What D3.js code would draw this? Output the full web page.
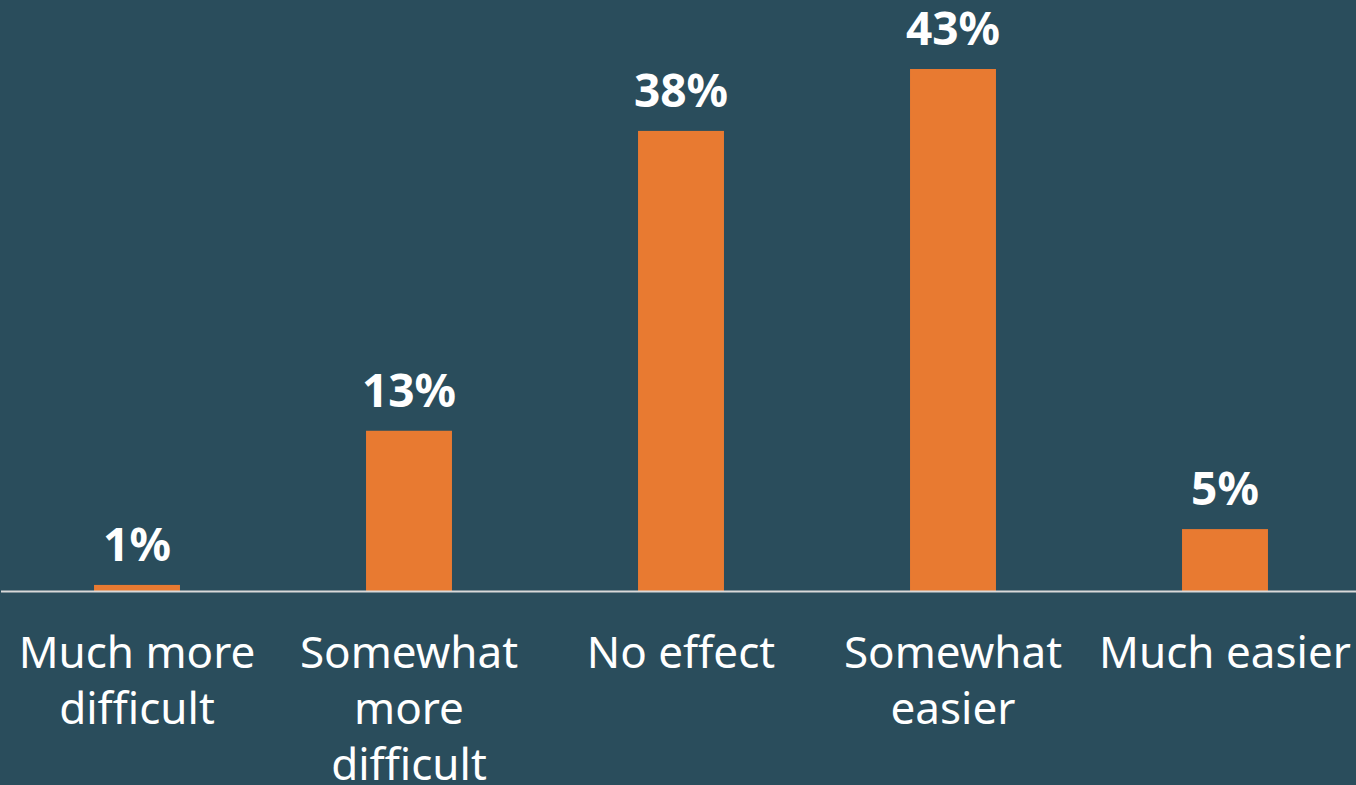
<!DOCTYPE html>
<html><head><meta charset="utf-8">
<script src="https://cdn.jsdelivr.net/npm/d3@7"></script>
<style>html,body{margin:0;padding:0;background:#2a4d5c;overflow:hidden}</style>
</head><body><svg id="c" width="1356" height="785"></svg>
<script>
const categories = [["Much more","difficult"],["Somewhat","more","difficult"],["No effect"],["Somewhat","easier"],["Much easier"]];
const values = [0.5, 13.2, 37.9, 43, 5.1];
const valueLabels = ["1%","13%","38%","43%","5%"];

const W = 1356, H = 785, baseY = 591;
const svg = d3.select("#c");
svg.append("rect").attr("width", W).attr("height", H).attr("fill", "#2a4d5c");

const x = d3.scaleBand().domain(d3.range(categories.length)).range([1, 1361]).paddingInner(0.684).paddingOuter(0.342);
const y = d3.scaleLinear().domain([0, 43]).range([baseY, 69]);
const font = "'Noto Sans', 'Open Sans', sans-serif";

svg.selectAll("rect.bar").data(values).join("rect").attr("class","bar")
  .attr("x", (d,i)=>x(i)).attr("width", x.bandwidth())
  .attr("y", d=>y(d)).attr("height", d=>baseY - y(d)).attr("fill", "#e87a31");

svg.append("line").attr("x1", 1).attr("x2", W).attr("y1", baseY+0.5).attr("y2", baseY+0.5)
  .attr("stroke", "#d9d9d9").attr("stroke-width", 2);

svg.selectAll("text.val").data(values).join("text").attr("class","val")
  .attr("x", (d,i)=>x(i)+x.bandwidth()/2).attr("y", d=>y(d)-24)
  .attr("text-anchor","middle").attr("fill","#fff").attr("font-family", font)
  .attr("font-weight","bold").attr("font-size", 46)
  .text((d,i)=>valueLabels[i]);

const g = svg.selectAll("text.cat").data(categories).join("text").attr("class","cat")
  .attr("text-anchor","middle").attr("fill","#fff").attr("font-family", font).attr("font-size", 44);
g.each(function(lines, i){
  const t = d3.select(this);
  lines.forEach((l, k)=>{
    t.append("tspan").attr("x", x(i)+x.bandwidth()/2).attr("y", 668 + k*56).text(l);
  });
});
</script></body></html>
